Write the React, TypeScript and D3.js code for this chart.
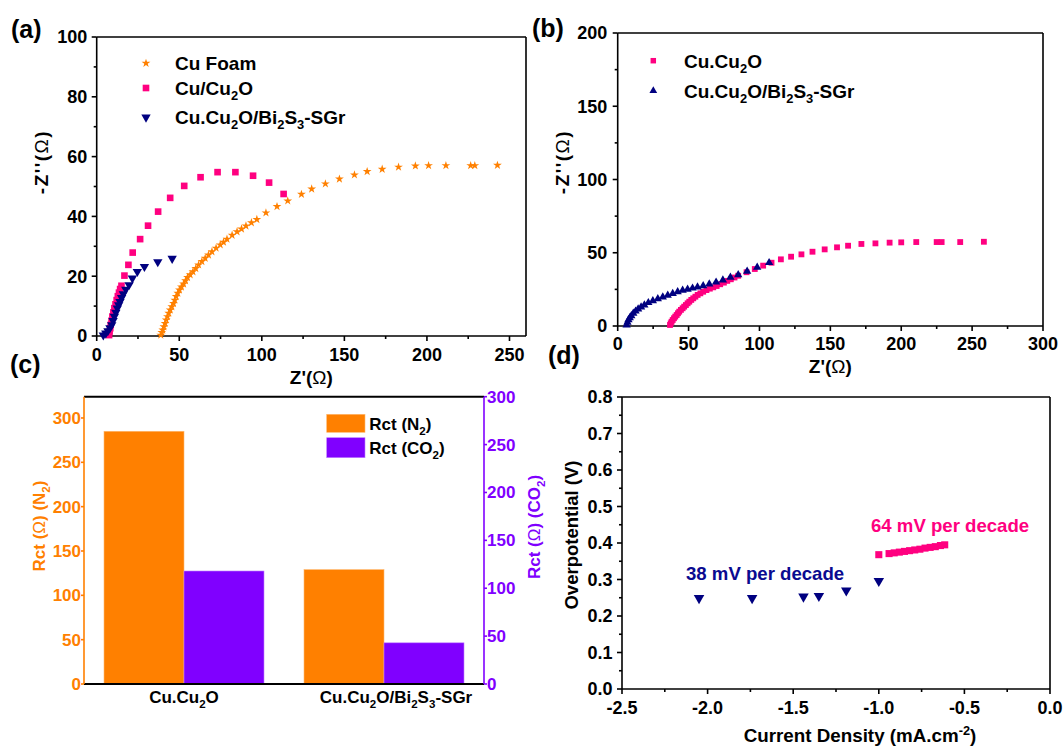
import React from 'react';
import * as d3 from 'd3';

const FONT = "'Liberation Sans', Arial, Helvetica, sans-serif";
const ORANGE = '#FF8000';
const PINK = '#FF0080';
const NAVY = '#000080';
const PURPLE = '#8000FF';

// ---------- Panel (a) data ----------
const aFoam: [number, number][] = [
  [38.8, 0.3], [39.4, 1.2], [40, 2], [40.7, 3.1], [41.4, 4.2], [42.1, 5.4], [42.8, 6.5], [43.6, 7.6],
  [44.5, 8.7], [45.5, 9.8], [46.5, 10.9], [47.3, 12], [48.1, 13.2], [49.1, 14.3], [50.1, 15.4], [51.3, 16.4],
  [52.6, 17.4], [53.8, 18.5], [55, 19.6], [56.6, 20.5], [58.3, 21.5], [60, 22.6], [61.7, 23.8], [63.7, 24.9],
  [65.7, 26], [67.7, 27.1], [69.8, 28.2], [72.3, 29.4], [74.8, 30.5], [76.8, 31.4], [78.9, 32.4], [82, 33.7],
  [85, 34.9], [87.7, 35.8], [90.4, 36.8], [93.7, 37.9], [97, 39], [102.5, 41.2], [109.2, 43.3], [115.7, 45.2],
  [124, 47.4], [130.2, 49.2], [138.5, 50.9], [147, 52.5], [156.1, 53.9], [163.8, 55], [172.9, 55.8], [182.8, 56.5],
  [193, 56.9], [201, 57], [211.5, 57], [226.5, 57], [229, 57], [242.7, 57.1],
];
const aCuCu2O: [number, number][] = [
  [7.5, 0.3], [7.8, 1.5], [8.2, 2.6], [8.5, 3.7], [9, 5.1], [9.5, 6.5], [10.1, 7.9], [10.7, 9.3], [11.4, 10.6],
  [12.1, 12], [12.8, 13.3], [13.5, 14.5], [14.2, 15.7], [15, 16.8], [16.8, 20.2], [19.2, 23.8], [21.8, 27.9],
  [26.3, 32.4], [31.1, 36.9], [37.2, 41.6], [44.5, 46.2], [53, 50.2], [62.9, 53.1], [73.2, 54.8], [84, 54.8],
  [94.7, 53.6], [104.4, 51.3], [113.2, 47.5],
];
const aBi: [number, number][] = [
  [4, 0.3], [5.5, 0.9], [6.8, 1.7], [8, 2.7], [9.1, 3.7], [9.9, 5.1], [10.7, 6.5], [11.6, 7.9], [12.5, 9.3],
  [13.3, 10.4], [14.1, 11.5], [15.1, 12.8], [16.1, 14.1], [17.6, 15.6], [19.6, 17.1], [21.6, 19.3], [24.6, 21.5],
  [28.9, 23.2], [37, 24.8], [45.7, 25.9],
];
const aXTicks = [0, 50, 100, 150, 200, 250];
const aYTicks = [0, 20, 40, 60, 80, 100];
const aLegend = ['Cu Foam', 'Cu/Cu_{2}O', 'Cu.Cu_{2}O/Bi_{2}S_{3}-SGr'];

// ---------- Panel (b) data ----------
const bCuCu2O: [number, number][] = [
  [36.9, 0.7], [37.4, 1.8], [38, 2.9], [38.8, 4.1], [39.7, 5.3], [40.6, 6.4], [41.6, 7.5], [42.5, 8.7], [43.4, 9.8],
  [44.6, 11], [45.8, 12.1], [46.9, 13.2], [48.1, 14.3], [49.3, 15.5], [50.5, 16.6], [51.9, 17.8], [53.3, 18.9],
  [54.8, 20], [56.4, 21.2], [58.3, 22.3], [60.3, 23.4], [62.6, 24.5], [65, 25.5], [67.4, 26.4], [69.8, 27.3],
  [72.3, 28.5], [74.9, 29.6], [77.3, 30.8], [79.8, 31.9], [82.4, 33.1], [85, 34.3], [90.9, 36.7], [96.7, 38.9],
  [102.6, 41.2], [108.5, 43.2], [115.1, 45.5], [122.3, 47.3], [129.6, 48.9], [137.4, 50.7], [146, 52.3],
  [154.7, 53.7], [162.5, 54.8], [171.9, 56], [181.8, 56.4], [191.8, 56.9], [200, 57.1], [210.6, 57.3],
  [225, 57.3], [228.5, 57.3], [241.6, 57.3], [258.3, 57.5],
];
const bBi: [number, number][] = [
  [6.3, 0.7], [6.9, 2.5], [7.6, 4.2], [8.5, 5.6], [9.6, 7], [11, 8.7], [12.6, 10.1], [14.4, 11.5], [16.5, 12.9],
  [18.8, 14.3], [21.6, 15.9], [24.8, 17.2], [28.3, 18.5], [31.8, 19.8], [35.3, 21], [38.8, 22.2], [42.3, 23.3],
  [45.8, 24.3], [49.3, 25], [52.8, 25.8], [56.3, 26.6], [60.3, 27.4], [64.6, 28.6], [69.4, 29.9], [74.2, 31.4],
  [79.5, 33.2], [85, 35], [91.3, 37.3], [98.4, 40.1], [106.8, 43.2],
];
const bXTicks = [0, 50, 100, 150, 200, 250, 300];
const bYTicks = [0, 50, 100, 150, 200];
const bLegend = ['Cu.Cu_{2}O', 'Cu.Cu_{2}O/Bi_{2}S_{3}-SGr'];

// ---------- Panel (c) data ----------
const cCategories = ['Cu.Cu_{2}O', 'Cu.Cu_{2}O/Bi_{2}S_{3}-SGr'];
const cRctN2 = [285, 129];
const cRctCO2 = [118, 43];
const cLeftTicks = [0, 50, 100, 150, 200, 250, 300];
const cRightTicks = [0, 50, 100, 150, 200, 250, 300];
const cLegend = ['Rct (N_{2})', 'Rct (CO_{2})'];

// ---------- Panel (d) data ----------
const dBi: [number, number][] = [
  [-2.05, 0.249], [-1.74, 0.249], [-1.44, 0.253], [-1.35, 0.255], [-1.19, 0.27], [-1.0, 0.296],
];
const dCu: [number, number][] = [
  [-1.0, 0.368], [-0.94, 0.371], [-0.91, 0.373], [-0.88, 0.375], [-0.85, 0.377], [-0.82, 0.379],
  [-0.79, 0.381], [-0.76, 0.383], [-0.73, 0.386], [-0.7, 0.388], [-0.67, 0.39], [-0.64, 0.393], [-0.615, 0.395],
];
const dXTicks = [-2.5, -2.0, -1.5, -1.0, -0.5, 0.0];
const dYTicks = [0, 0.1, 0.2, 0.3, 0.4, 0.5, 0.6, 0.7, 0.8];

// ---------- helpers ----------
type Anchor = 'start' | 'middle' | 'end';
function Rich(props: {
  text: string; x: number; y: number; fs: number; fill?: string; anchor?: Anchor;
  weight?: string; transform?: string; spacing?: number;
}) {
  const { text, x, y, fs, fill = '#000', anchor = 'start', weight = 'bold', transform, spacing } = props;
  const parts = text.split(/(_\{[^}]*\}|\^\{[^}]*\}|Ω)/).filter((s) => s !== '');
  let shift = 0;
  const spans = parts.map((p, i) => {
    let dy = 0;
    let content = p;
    let size = fs;
    let w = weight;
    if (p.startsWith('_{')) {
      content = p.slice(2, -1);
      dy = 0.28 * fs - shift;
      shift = 0.28 * fs;
      size = fs * 0.68;
    } else if (p.startsWith('^{')) {
      content = p.slice(2, -1);
      dy = -0.38 * fs - shift;
      shift = -0.38 * fs;
      size = fs * 0.68;
    } else {
      dy = -shift;
      shift = 0;
      if (p === 'Ω') w = 'normal';
    }
    return (
      <tspan key={i} dy={dy} fontSize={size} fontWeight={w}>
        {content}
      </tspan>
    );
  });
  return (
    <text x={x} y={y} textAnchor={anchor} fill={fill} fontFamily={FONT} fontSize={fs} fontWeight={weight}
      transform={transform} letterSpacing={spacing}>
      {spans}
    </text>
  );
}

const sym = (type: d3.SymbolType, size: number) => d3.symbol().type(type).size(size)() as string;
const fmt0 = (v: number) => String(v);
const fmt1 = (v: number) => v.toFixed(1);
const SW = 1.6;

function LeftAxis(p: {
  x: number; scale: d3.ScaleLinear<number, number>; ticks: number[]; minor?: number[]; fmt: (v: number) => string;
  color?: string; fs?: number; len?: number; gap?: number;
}) {
  const { x, scale, ticks, minor = [], fmt, color = '#000', fs = 18, len = 5, gap = 4 } = p;
  const r = scale.range();
  return (
    <g>
      <line x1={x} x2={x} y1={r[0]} y2={r[1]} stroke={color} strokeWidth={SW} />
      {ticks.map((t) => (
        <line key={'M' + t} x1={x - len} x2={x} y1={scale(t)} y2={scale(t)} stroke={color} strokeWidth={SW} />
      ))}
      {minor.map((t) => (
        <line key={'m' + t} x1={x - len * 0.6} x2={x} y1={scale(t)} y2={scale(t)} stroke={color} strokeWidth={SW} />
      ))}
      {ticks.map((t) => (
        <text key={'L' + t} x={x - len - gap} y={scale(t) + fs * 0.35} textAnchor="end" fill={color}
          fontFamily={FONT} fontWeight="bold" fontSize={fs}>{fmt(t)}</text>
      ))}
    </g>
  );
}

function RightAxis(p: {
  x: number; scale: d3.ScaleLinear<number, number>; ticks: number[]; fmt: (v: number) => string;
  color?: string; fs?: number; len?: number; gap?: number;
}) {
  const { x, scale, ticks, fmt, color = '#000', fs = 18, len = 4, gap = 1 } = p;
  const r = scale.range();
  return (
    <g>
      <line x1={x} x2={x} y1={r[0]} y2={r[1]} stroke={color} strokeWidth={SW} />
      {ticks.map((t) => (
        <line key={'M' + t} x1={x} x2={x + len} y1={scale(t)} y2={scale(t)} stroke={color} strokeWidth={SW} />
      ))}
      {ticks.map((t) => (
        <text key={'L' + t} x={x + len + gap} y={scale(t) + fs * 0.35} textAnchor="start" fill={color}
          fontFamily={FONT} fontWeight="bold" fontSize={fs}>{fmt(t)}</text>
      ))}
    </g>
  );
}

function BottomAxis(p: {
  y: number; scale: d3.ScaleLinear<number, number>; ticks: number[]; minor?: number[]; fmt: (v: number) => string;
  fs?: number; len?: number; labelDy?: number;
}) {
  const { y, scale, ticks, minor = [], fmt, fs = 18, len = 5, labelDy = 24 } = p;
  const r = scale.range();
  return (
    <g>
      <line x1={r[0]} x2={r[1]} y1={y} y2={y} stroke="#000" strokeWidth={SW} />
      {ticks.map((t) => (
        <line key={'M' + t} x1={scale(t)} x2={scale(t)} y1={y} y2={y + len} stroke="#000" strokeWidth={SW} />
      ))}
      {minor.map((t) => (
        <line key={'m' + t} x1={scale(t)} x2={scale(t)} y1={y} y2={y + len * 0.6} stroke="#000" strokeWidth={SW} />
      ))}
      {ticks.map((t) => (
        <text key={'L' + t} x={scale(t)} y={y + labelDy} textAnchor="middle" fill="#000"
          fontFamily={FONT} fontWeight="bold" fontSize={fs}>{fmt(t)}</text>
      ))}
    </g>
  );
}

const mids = (arr: number[]) => arr.slice(0, -1).map((v, i) => (v + arr[i + 1]) / 2);

// ---------- Panels ----------
function PanelA() {
  const x = d3.scaleLinear().domain([0, 260]).range([96.7, 526]);
  const y = d3.scaleLinear().domain([0, 100]).range([336, 37]);
  const star = sym(d3.symbolStar, 24);
  const sq = sym(d3.symbolSquare, 44);
  const tri = sym(d3.symbolTriangle, 38);
  const legendY = [63.3, 88, 117.3];
  return (
    <g>
      <line x1={x(0)} x2={x(260)} y1={y(100)} y2={y(100)} stroke="#000" strokeWidth={SW} />
      <line x1={x(260)} x2={x(260)} y1={y(0)} y2={y(100)} stroke="#000" strokeWidth={SW} />
      <LeftAxis x={x(0)} scale={y} ticks={aYTicks} minor={mids(aYTicks)} fmt={fmt0} gap={4.5} />
      <BottomAxis y={y(0)} scale={x} ticks={aXTicks} minor={mids(aXTicks)} fmt={fmt0} labelDy={25} />
      {aFoam.map(([a, b], i) => (
        <path key={'f' + i} d={star} transform={`translate(${x(a)},${y(b)})`} fill={ORANGE} />
      ))}
      {aCuCu2O.map(([a, b], i) => (
        <path key={'c' + i} d={sq} transform={`translate(${x(a)},${y(b)})`} fill={PINK} />
      ))}
      {aBi.map(([a, b], i) => (
        <path key={'b' + i} d={tri} transform={`translate(${x(a)},${y(b)}) rotate(180)`} fill={NAVY} />
      ))}
      <path d={star} transform={`translate(146,${legendY[0]})`} fill={ORANGE} />
      <path d={sq} transform={`translate(146,${legendY[1]})`} fill={PINK} />
      <path d={tri} transform={`translate(146,${legendY[2]}) rotate(180)`} fill={NAVY} />
      {aLegend.map((t, i) => (
        <Rich key={t} text={t} x={175} y={legendY[i] + 6.8} fs={19} />
      ))}
      <Rich text="Z'(Ω)" x={(x(0) + x(260)) / 2} y={384} fs={19} anchor="middle" />
      <Rich text="-Z''(Ω)" x={0} y={0} fs={19} anchor="middle" spacing={1.5} transform="translate(48,162) rotate(-90)" />
      <Rich text="(a)" x={11} y={38} fs={25} />
    </g>
  );
}

function PanelB() {
  const x = d3.scaleLinear().domain([0, 300]).range([617.7, 1043]);
  const y = d3.scaleLinear().domain([0, 200]).range([326, 33]);
  const sq = sym(d3.symbolSquare, 34);
  const tri = sym(d3.symbolTriangle, 30);
  const legendY = [60.7, 90.7];
  return (
    <g>
      <line x1={x(0)} x2={x(300)} y1={y(200)} y2={y(200)} stroke="#000" strokeWidth={SW} />
      <line x1={x(300)} x2={x(300)} y1={y(0)} y2={y(200)} stroke="#000" strokeWidth={SW} />
      <LeftAxis x={x(0)} scale={y} ticks={bYTicks} minor={mids(bYTicks)} fmt={fmt0} gap={5.5} />
      <BottomAxis y={y(0)} scale={x} ticks={bXTicks} minor={mids(bXTicks)} fmt={fmt0} labelDy={24} />
      {bCuCu2O.map(([a, b], i) => (
        <path key={'c' + i} d={sq} transform={`translate(${x(a)},${y(b)})`} fill={PINK} />
      ))}
      {bBi.map(([a, b], i) => (
        <path key={'b' + i} d={tri} transform={`translate(${x(a)},${y(b)})`} fill={NAVY} />
      ))}
      <path d={sym(d3.symbolSquare, 30)} transform={`translate(653.3,${legendY[0]})`} fill={PINK} />
      <path d={sym(d3.symbolTriangle, 26)} transform={`translate(653.3,${legendY[1]})`} fill={NAVY} />
      {bLegend.map((t, i) => (
        <Rich key={t} text={t} x={684} y={legendY[i] + 6.8} fs={19} />
      ))}
      <Rich text="Z'(Ω)" x={(x(0) + x(300)) / 2} y={373} fs={19} anchor="middle" />
      <Rich text="-Z''(Ω)" x={0} y={0} fs={19} anchor="middle" spacing={1.5} transform="translate(569,162) rotate(-90)" />
      <Rich text="(b)" x={532} y={37} fs={25} />
    </g>
  );
}

function PanelC() {
  const x0 = d3.scaleBand<string>().domain(cCategories).range([84, 484]).paddingInner(0.2).paddingOuter(0.1);
  const x1 = d3.scaleBand<string>().domain(['N2', 'CO2']).range([0, x0.bandwidth()]);
  const yL = d3.scaleLinear().domain([0, 324]).range([684, 396.7]);
  const yR = d3.scaleLinear().domain([0, 300]).range([684, 396.7]);
  return (
    <g>
      {cCategories.map((c, i) => (
        <g key={c}>
          <rect x={(x0(c) as number) + (x1('N2') as number)} y={yL(cRctN2[i])} width={x1.bandwidth()}
            height={yL(0) - yL(cRctN2[i])} fill={ORANGE} stroke="#FFB870" strokeWidth={0.6} />
          <rect x={(x0(c) as number) + (x1('CO2') as number)} y={yR(cRctCO2[i])} width={x1.bandwidth()}
            height={yR(0) - yR(cRctCO2[i])} fill={PURPLE} stroke="#C080FF" strokeWidth={0.6} />
          <Rich text={c} x={(x0(c) as number) + x0.bandwidth() / 2 + (i === 1 ? 12 : 0)} y={703} fs={17} anchor="middle" />
        </g>
      ))}
      <line x1={84} x2={484} y1={396.7} y2={396.7} stroke="#000" strokeWidth={2} />
      <line x1={84} x2={484} y1={684} y2={684} stroke="#000" strokeWidth={2} />
      <LeftAxis x={84} scale={yL} ticks={cLeftTicks} fmt={fmt0} color={ORANGE} fs={17} len={3} gap={0} />
      <RightAxis x={484} scale={yR} ticks={cRightTicks} fmt={fmt0} color={PURPLE} fs={17} len={3} gap={0} />
      <rect x={326.7} y={414.3} width={38.3} height={18} fill={ORANGE} stroke="#FFB870" strokeWidth={0.6} />
      <rect x={326.7} y={437.7} width={38.3} height={20} fill={PURPLE} stroke="#C080FF" strokeWidth={0.6} />
      <Rich text={cLegend[0]} x={369.3} y={430} fs={17} />
      <Rich text={cLegend[1]} x={369.3} y={454} fs={17} />
      <Rich text="Rct (Ω) (N_{2})" x={0} y={0} fs={17} anchor="middle" fill={ORANGE}
        transform="translate(45,526) rotate(-90)" />
      <Rich text="Rct (Ω) (CO_{2})" x={0} y={0} fs={17} anchor="middle" fill={PURPLE}
        transform="translate(540,527) rotate(-90)" />
      <Rich text="(c)" x={10} y={373} fs={25} />
    </g>
  );
}

function PanelD() {
  const x = d3.scaleLinear().domain([-2.5, 0]).range([622, 1050]);
  const y = d3.scaleLinear().domain([0, 0.8]).range([689, 397]);
  const tri = sym(d3.symbolTriangle, 48);
  const sq = sym(d3.symbolSquare, 50);
  return (
    <g>
      <line x1={x(-2.5)} x2={x(0)} y1={y(0.8)} y2={y(0.8)} stroke="#000" strokeWidth={SW} />
      <line x1={x(0)} x2={x(0)} y1={y(0)} y2={y(0.8)} stroke="#000" strokeWidth={SW} />
      <LeftAxis x={x(-2.5)} scale={y} ticks={dYTicks} minor={mids(dYTicks)} fmt={fmt1} gap={4.5} />
      <BottomAxis y={y(0)} scale={x} ticks={dXTicks} minor={mids(dXTicks)} fmt={fmt1} labelDy={25} />
      {dBi.map(([a, b], i) => (
        <path key={'b' + i} d={tri} transform={`translate(${x(a)},${y(b)}) rotate(180)`} fill={NAVY} />
      ))}
      {dCu.map(([a, b], i) => (
        <path key={'c' + i} d={sq} transform={`translate(${x(a)},${y(b)})`} fill={PINK} />
      ))}
      <Rich text="38 mV per decade" x={686} y={580} fs={18.6} fill="#0a0a90" />
      <Rich text="64 mV per decade" x={871} y={531.5} fs={18.6} fill={PINK} />
      <Rich text="Overpotential (V)" x={0} y={0} fs={18.5} anchor="middle" transform="translate(578,535) rotate(-90)" />
      <Rich text="Current Density (mA.cm^{-2})" x={860} y={742} fs={18.8} anchor="middle" />
      <Rich text="(d)" x={548} y={364} fs={25} />
    </g>
  );
}

export default function App() {
  return (
    <svg width={1064} height={747} viewBox="0 0 1064 747"
      style={{ position: 'absolute', left: 0, top: 0, background: '#fff' }}>
      <rect x={0} y={0} width={1064} height={747} fill="#fff" />
      <PanelA />
      <PanelB />
      <PanelC />
      <PanelD />
    </svg>
  );
}
